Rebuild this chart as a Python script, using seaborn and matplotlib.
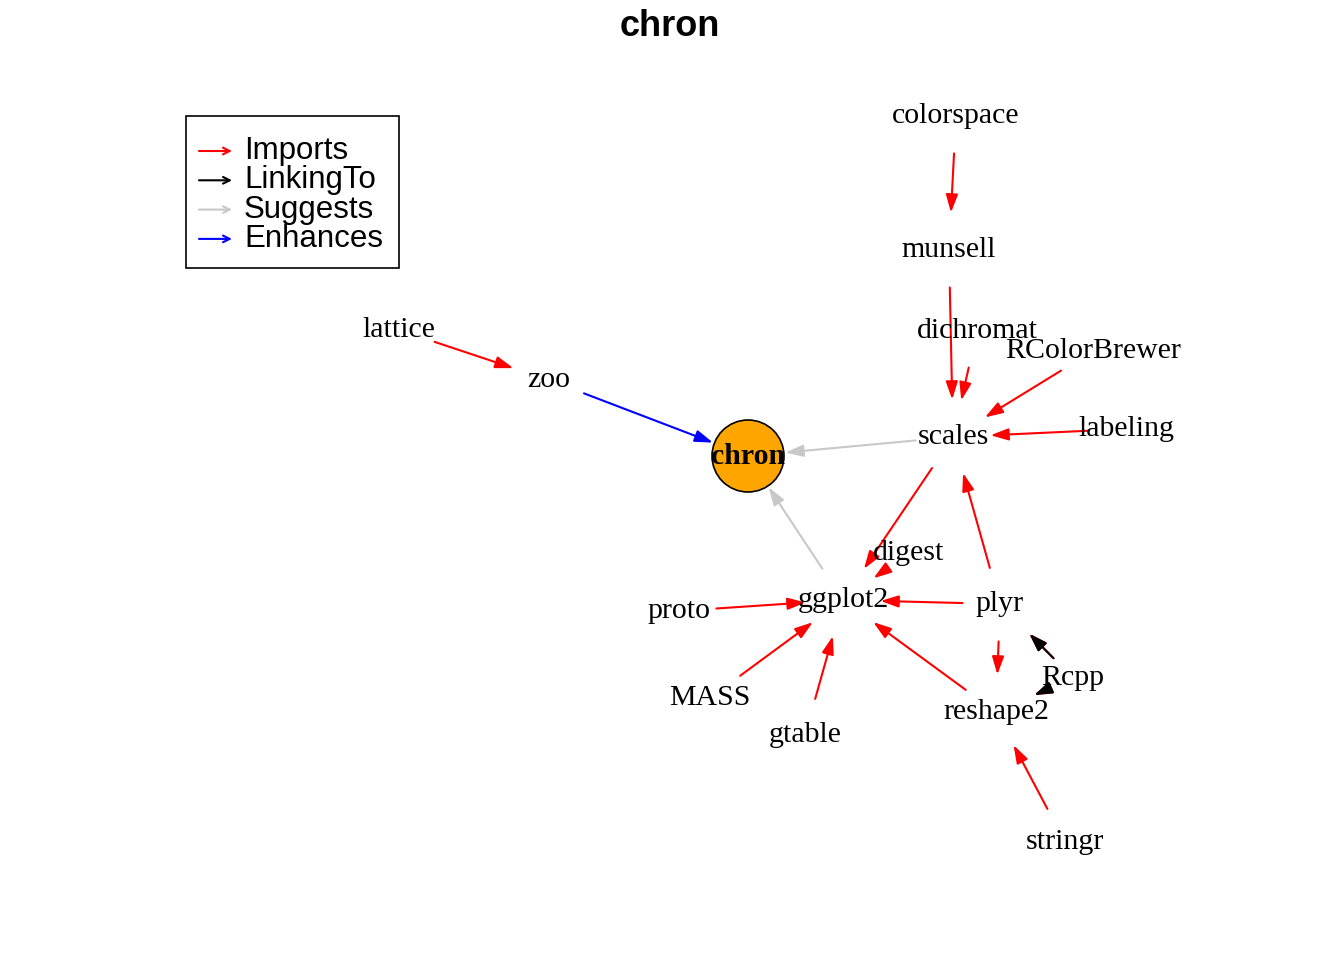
import matplotlib
matplotlib.use("Agg")
import matplotlib.pyplot as plt
import seaborn as sns
from matplotlib.patches import Circle, Rectangle

sns.set_theme(style="white")
plt.rcParams['font.family'] = ['Liberation Serif', 'DejaVu Serif']
plt.rcParams['text.color'] = 'black'

nodes = ["colorspace", "munsell", "dichromat", "RColorBrewer", "scales", "labeling",
         "lattice", "zoo", "chron", "digest", "ggplot2", "proto", "plyr", "Rcpp",
         "reshape2", "MASS", "gtable", "stringr"]
node_x = [956, 949, 977, 1093, 953, 1126, 399, 549, 748, 909, 843, 679, 1000, 1073, 996, 710, 805, 1065]
node_y = [116, 250, 331, 351, 437, 429, 330, 380, 456, 553, 600, 611, 604, 678, 712, 698, 735, 842]

edge_from = ["colorspace", "munsell", "dichromat", "RColorBrewer", "labeling", "lattice", "zoo",
             "scales", "ggplot2", "scales", "digest", "plyr", "proto", "MASS", "gtable", "reshape2",
             "plyr", "plyr", "Rcpp", "Rcpp", "Rcpp", "Rcpp", "stringr"]
edge_to = ["munsell", "scales", "scales", "scales", "scales", "zoo", "chron",
           "chron", "chron", "ggplot2", "ggplot2", "ggplot2", "ggplot2", "ggplot2", "ggplot2", "ggplot2",
           "scales", "reshape2", "plyr", "plyr", "reshape2", "reshape2", "reshape2"]
edge_type = ["Imports", "Imports", "Imports", "Imports", "Imports", "Imports", "Enhances",
             "Suggests", "Suggests", "Imports", "Imports", "Imports", "Imports", "Imports", "Imports", "Imports",
             "Imports", "Imports", "Imports", "LinkingTo", "Imports", "LinkingTo", "Imports"]
type_names = ["Imports", "LinkingTo", "Suggests", "Enhances"]
type_colors = ["red", "black", "#C8C8C8", "blue"]
cmap = dict(zip(type_names, type_colors))

fig = plt.figure(figsize=(13.44, 9.6), dpi=100)
ax = fig.add_axes([0, 0, 1, 1])
ax.set_xlim(0, 1344)
ax.set_ylim(960, 0)
ax.axis("off")
pos = {n: (x, y) for n, x, y in zip(nodes, node_x, node_y)}

for f, t, ty in zip(edge_from, edge_to, edge_type):
    sA, sB = 27, 27
    if f == "Rcpp":
        sA, sB = 20, 30
    ax.annotate("", xy=pos[t], xytext=pos[f],
                arrowprops=dict(arrowstyle="-|>,head_length=0.9,head_width=0.3", color=cmap[ty],
                                lw=1.5, shrinkA=sA, shrinkB=sB), zorder=1)

ax.add_patch(Circle(pos["chron"], 36, facecolor="orange", edgecolor="black", lw=1.2, zorder=2))
for n in nodes:
    ax.text(*pos[n], n, ha="center", va="center", fontsize=21.5, color="black",
            fontweight="bold" if n == "chron" else "normal", zorder=3)

ax.text(670, 27, "chron", ha="center", va="center", fontsize=26, fontweight="bold", color="black",
        family=["Liberation Sans", "DejaVu Sans"])

ax.add_patch(Rectangle((186, 116), 213, 152, fill=False, edgecolor="black", lw=1.2))
for i, (nm, c) in enumerate(zip(type_names, type_colors)):
    y = 151 + i * 29.3
    ax.annotate("", xy=(232, y), xytext=(199, y),
                arrowprops=dict(arrowstyle="->", color=c, lw=1.5, shrinkA=0, shrinkB=0))
    ax.text(244, y, nm, ha="left", va="center", fontsize=22.5, color="black",
            family=["Liberation Sans", "DejaVu Sans"])

fig.savefig("out.png", dpi=100, facecolor="white")
